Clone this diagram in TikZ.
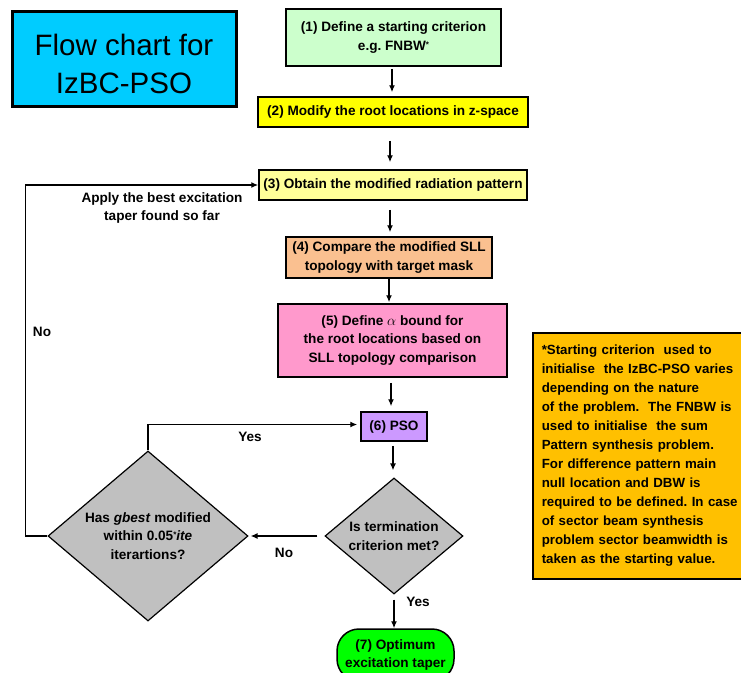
\documentclass[tikz,border=0pt]{standalone}
\usepackage{fontspec}
\setmainfont{Liberation Sans}
\usetikzlibrary{shapes.geometric,arrows.meta,calc}
\definecolor{cTitle}{HTML}{00CCFF}
\definecolor{cOne}{HTML}{CCFFCC}
\definecolor{cTwo}{HTML}{FFFF00}
\definecolor{cThree}{HTML}{FFFF99}
\definecolor{cFour}{HTML}{FAC090}
\definecolor{cFive}{HTML}{FF99CC}
\definecolor{cSix}{HTML}{CC99FF}
\definecolor{cGray}{HTML}{C0C0C0}
\definecolor{cSeven}{HTML}{00FF00}
\definecolor{cNote}{HTML}{FFC000}
\begin{document}
\frenchspacing
\begin{tikzpicture}[x=1pt,y=-1pt,
  txt/.style={font=\fontsize{13.6}{18.5}\selectfont\bfseries, align=center, inner sep=0pt},
  procbox/.style={txt, draw=black, line width=1.5pt, rectangle},
  decision/.style={txt, draw=black, line width=1.2pt, diamond, fill=cGray},
  conn/.style={line width=1.3pt, -{Latex[length=7pt,width=6pt]}},
  lbl/.style={txt}]
\clip (0,0) rectangle (741,672);
\fill[white] (0,0) rectangle (741,672);

% title
\node[draw=black, line width=3pt, fill=cTitle, minimum width=224, minimum height=95, inner sep=0pt] (title) at (124,58.5) {};
\node[font=\fontsize{29.5}{38}\selectfont, align=center, inner sep=0pt] (titletxt) at (124,64) {Flow chart for\\IzBC-PSO};

% process boxes
\node[procbox, fill=cOne, minimum width=215, minimum height=57] (s1) at (393.5,37.5) {(1) Define a starting criterion\\e.g. FNBW\raisebox{3pt}{\fontsize{8}{8}\selectfont *}};
\node[procbox, fill=cTwo, minimum width=270, minimum height=30] (s2) at (393,112) {(2) Modify the root locations in z-space};
\node[procbox, fill=cThree, minimum width=268, minimum height=30] (s3) at (393,185) {(3) Obtain the modified radiation pattern};
\node[procbox, fill=cFour, minimum width=206, minimum height=41] (s4) at (389,257.5) {(4) Compare the modified SLL\\topology with target mask};
\node[procbox, fill=cFive, minimum width=229, minimum height=73] (s5) at (392.5,340.5) {(5) Define $\alpha$ bound for\\the root locations based on\\SLL topology comparison};
\node[procbox, fill=cSix, minimum width=66, minimum height=29] (s6) at (394,426.5) {(6) PSO};

% decisions
\node[decision, minimum width=138, minimum height=116, aspect=1.19] (d2) at (394,536) {Is termination\\criterion met?};
\node[decision, minimum width=200, minimum height=170, aspect=1.18] (d1) at (148,536) {Has \textit{gbest} modified\\within 0.05\raisebox{3pt}{\fontsize{8}{8}\selectfont *}\textit{ite}\\iterartions?};

% terminal
\node[procbox, fill=cSeven, rounded corners=22, minimum width=117, minimum height=52] (s7) at (395.5,655) {(7) Optimum\\excitation taper};

% note
\node[txt, draw=black, line width=1.5pt, fill=cNote, anchor=north west, text width=205, minimum height=246, inner xsep=9pt, align=left, font=\fontsize{13.3}{19}\selectfont\bfseries] (note) at (532,332) {*Starting criterion\ \ used to\\initialise\ \ the IzBC-PSO varies\\depending on the nature\\of the problem.\ \ The FNBW is\\used to initialise\ \ the sum\\Pattern synthesis problem.\\For difference pattern main\\null location and DBW is\\required to be defined. In case\\of sector beam synthesis\\problem sector beamwidth is\\taken as the starting value.};

% connectors
\draw[conn] ($(s1.south)+(-1.5,2)$) -- ($(s2.north)+(-1,-4)$);
\draw[conn] ($(s2.south)+(-3,13)$) -- ($(s3.north)+(-3,-7)$);
\draw[conn] ($(s3.south)+(-3,9)$) -- ($(s4.north)+(1,-4)$);
\draw[conn] (s4.south) -- ($(s5.north)+(-3.5,-1)$);
\draw[conn] ($(s5.south)+(-1.5,5)$) -- ($(s6.north)+(-3,-5)$);
\draw[conn] ($(s6.south)+(-1,4)$) -- ($(d2.north)+(-1,-7)$);
\draw[conn] ($(d2.west)+(-7,0)$) -- ($(d1.east)+(2,0)$);
\draw[conn] ($(d2.south)+(0,5)$) -- (d2.south |- s7.north);
\draw[conn] (d1.north) |- ($(s6.west)+(-3,-2)$);
\draw[conn] (d1.west) -- ++(-22,0) |- (s3.west);

% labels
\node[lbl] (lapply) at (162,208) {Apply the best excitation\\taper found so far};
\node[lbl] (lno1) at (42,332) {No};
\node[lbl] (lyes1) at (250,437) {Yes};
\node[lbl] (lno2) at (284,553) {No};
\node[lbl] (lyes2) at (418,602) {Yes};
\end{tikzpicture}
\end{document}
